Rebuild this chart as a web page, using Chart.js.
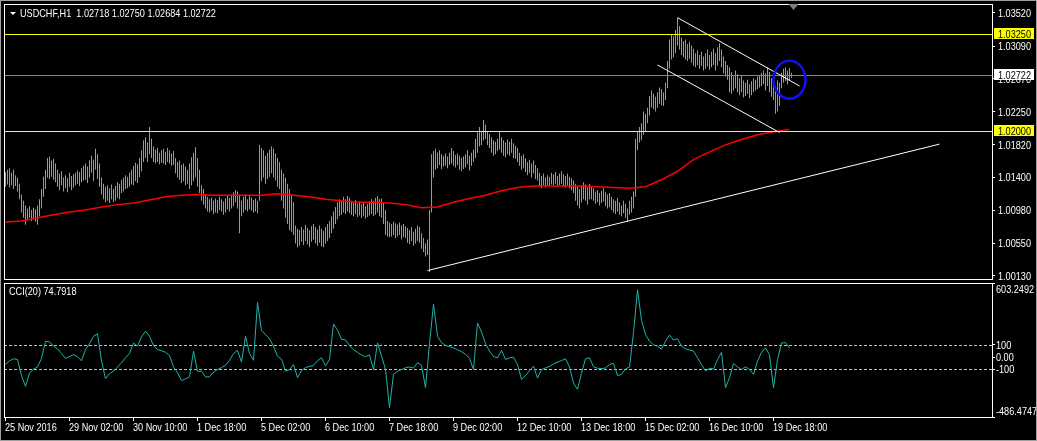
<!DOCTYPE html>
<html>
<head>
<meta charset="utf-8">
<script src="https://cdn.jsdelivr.net/npm/chart.js@4.4.0/dist/chart.umd.min.js"></script>
<style>
html, body { margin: 0; padding: 0; background: #000; }
#wrap { position: relative; width: 1037px; height: 441px; overflow: hidden; background: #000; }
canvas { position: absolute; left: 0; }
#edge { position: absolute; left: 0; top: 0; width: 1037px; height: 441px; box-sizing: border-box; border: 1px solid #a0a0a0; pointer-events: none; }
</style>
</head>
<body>
<div id="wrap">
  <canvas id="priceChart" width="1037" height="281" style="top:0"></canvas>
  <canvas id="cciChart" width="1037" height="160" style="top:281px"></canvas>
  <div id="edge"></div>
</div>
<script>
// USDCHF H1 bars, one entry per hour
const highs = [
  1.0147,1.0150,1.0152,1.0146,1.0150,1.0143,1.0140,1.0132,1.0118,1.0110,
  1.0104,1.0100,1.0103,1.0098,1.0101,1.0099,1.0104,1.0112,1.0125,1.0141,
  1.0150,1.0165,1.0167,1.0162,1.0164,1.0158,1.0150,1.0145,1.0148,1.0140,
  1.0143,1.0139,1.0146,1.0142,1.0144,1.0146,1.0149,1.0147,1.0152,1.0155,
  1.0158,1.0154,1.0162,1.0168,1.0163,1.0177,1.0170,1.0158,1.0140,1.0132,
  1.0128,1.0130,1.0126,1.0131,1.0125,1.0129,1.0134,1.0132,1.0137,1.0140,
  1.0143,1.0141,1.0146,1.0150,1.0155,1.0159,1.0157,1.0165,1.0175,1.0188,
  1.0192,1.0185,1.0205,1.0190,1.0180,1.0176,1.0178,1.0172,1.0175,1.0177,
  1.0173,1.0178,1.0175,1.0171,1.0174,1.0165,1.0160,1.0162,1.0156,1.0158,
  1.0154,1.0150,1.0158,1.0166,1.0172,1.0179,1.0165,1.0150,1.0130,1.0125,
  1.0118,1.0115,1.0112,1.0114,1.0110,1.0113,1.0111,1.0115,1.0112,1.0109,
  1.0113,1.0116,1.0114,1.0118,1.0121,1.0124,1.0122,1.0118,1.0110,1.0115,
  1.0118,1.0112,1.0116,1.0114,1.0111,1.0113,1.0110,1.0182,1.0178,1.0175,
  1.0168,1.0172,1.0176,1.0180,1.0177,1.0171,1.0165,1.0160,1.0150,1.0145,
  1.0140,1.0132,1.0125,1.0118,1.0108,1.0078,1.0074,1.0072,1.0076,1.0073,
  1.0079,1.0075,1.0072,1.0077,1.0080,1.0076,1.0073,1.0078,1.0074,1.0071,
  1.0076,1.0080,1.0084,1.0090,1.0096,1.0102,1.0108,1.0112,1.0110,1.0115,
  1.0112,1.0116,1.0114,1.0110,1.0108,1.0111,1.0106,1.0109,1.0105,1.0108,
  1.0103,1.0106,1.0109,1.0112,1.0110,1.0114,1.0116,1.0112,1.0113,1.0108,
  1.0098,1.0084,1.0082,1.0080,1.0083,1.0081,1.0079,1.0082,1.0078,1.0080,
  1.0077,1.0075,1.0072,1.0076,1.0070,1.0074,1.0078,1.0076,1.0068,1.0062,
  1.0055,1.0060,1.0098,1.0170,1.0174,1.0177,1.0172,1.0175,1.0170,1.0168,
  1.0171,1.0167,1.0172,1.0178,1.0174,1.0169,1.0171,1.0168,1.0165,1.0167,
  1.0170,1.0175,1.0168,1.0172,1.0176,1.0190,1.0198,1.0205,1.0200,1.0214,
  1.0208,1.0200,1.0196,1.0192,1.0188,1.0186,1.0190,1.0200,1.0192,1.0188,
  1.0185,1.0189,1.0186,1.0190,1.0184,1.0181,1.0178,1.0172,1.0168,1.0170,
  1.0165,1.0160,1.0163,1.0158,1.0162,1.0156,1.0152,1.0146,1.0142,1.0145,
  1.0140,1.0143,1.0141,1.0146,1.0144,1.0147,1.0142,1.0145,1.0148,1.0144,
  1.0142,1.0145,1.0141,1.0139,1.0136,1.0132,1.0128,1.0125,1.0130,1.0134,
  1.0131,1.0127,1.0132,1.0128,1.0126,1.0122,1.0124,1.0120,1.0123,1.0126,
  1.0121,1.0118,1.0120,1.0115,1.0112,1.0110,1.0114,1.0108,1.0104,1.0110,
  1.0106,1.0100,1.0110,1.0115,1.0122,1.0190,1.0200,1.0205,1.0210,1.0225,
  1.0222,1.0230,1.0245,1.0252,1.0248,1.0244,1.0250,1.0256,1.0254,1.0250,
  1.0262,1.0290,1.0318,1.0325,1.0322,1.0330,1.0346,1.0335,1.0320,1.0316,
  1.0318,1.0312,1.0315,1.0310,1.0306,1.0300,1.0304,1.0298,1.0302,1.0296,
  1.0300,1.0305,1.0298,1.0302,1.0306,1.0300,1.0308,1.0313,1.0305,1.0296,
  1.0290,1.0285,1.0282,1.0276,1.0270,1.0278,1.0273,1.0268,1.0272,1.0265,
  1.0262,1.0266,1.0260,1.0264,1.0268,1.0266,1.0270,1.0272,1.0275,1.0278,
  1.0274,1.0282,1.0276,1.0268,1.0262,1.0258,1.0265,1.0262,1.0275,1.0280,
  1.0282,1.0278,1.0281,1.02750
];
const lows = [
  1.0128,1.0131,1.0127,1.0130,1.0125,1.0129,1.0122,1.0112,1.0095,1.0088,
  1.0079,1.0086,1.0088,1.0084,1.0087,1.0083,1.0079,1.0090,1.0100,1.0115,
  1.0125,1.0140,1.0138,1.0141,1.0137,1.0134,1.0128,1.0124,1.0130,1.0122,
  1.0126,1.0121,1.0128,1.0124,1.0127,1.0130,1.0132,1.0129,1.0134,1.0136,
  1.0137,1.0133,1.0140,1.0146,1.0135,1.0150,1.0138,1.0128,1.0118,1.0112,
  1.0108,1.0110,1.0107,1.0112,1.0108,1.0110,1.0114,1.0112,1.0120,1.0122,
  1.0125,1.0126,1.0128,1.0131,1.0130,1.0135,1.0133,1.0140,1.0148,1.0160,
  1.0165,1.0160,1.0170,1.0165,1.0160,1.0158,1.0160,1.0157,1.0159,1.0158,
  1.0156,1.0160,1.0158,1.0155,1.0156,1.0145,1.0140,1.0137,1.0133,1.0135,
  1.0130,1.0132,1.0125,1.0130,1.0135,1.0140,1.0128,1.0120,1.0110,1.0105,
  1.0100,1.0096,1.0095,1.0097,1.0093,1.0095,1.0094,1.0098,1.0096,1.0092,
  1.0095,1.0099,1.0096,1.0100,1.0103,1.0108,1.0100,1.0068,1.0090,1.0095,
  1.0098,1.0096,1.0099,1.0097,1.0095,1.0096,1.0094,1.0110,1.0135,1.0140,
  1.0132,1.0138,1.0141,1.0145,1.0140,1.0136,1.0128,1.0125,1.0110,1.0100,
  1.0088,1.0080,1.0072,1.0070,1.0066,1.0055,1.0050,1.0052,1.0057,1.0053,
  1.0058,1.0054,1.0050,1.0057,1.0060,1.0055,1.0052,1.0056,1.0051,1.0050,
  1.0055,1.0058,1.0062,1.0068,1.0074,1.0080,1.0086,1.0090,1.0092,1.0095,
  1.0093,1.0096,1.0094,1.0092,1.0090,1.0093,1.0089,1.0091,1.0088,1.0090,
  1.0087,1.0089,1.0091,1.0093,1.0090,1.0092,1.0095,1.0090,1.0088,1.0080,
  1.0066,1.0064,1.0063,1.0064,1.0066,1.0062,1.0064,1.0066,1.0060,1.0063,
  1.0062,1.0056,1.0054,1.0058,1.0052,1.0055,1.0058,1.0056,1.0048,1.0044,
  1.0038,1.0040,1.0018,1.0095,1.0140,1.0150,1.0152,1.0156,1.0151,1.0154,
  1.0155,1.0152,1.0156,1.0158,1.0155,1.0153,1.0156,1.0150,1.0148,1.0151,
  1.0153,1.0157,1.0149,1.0155,1.0160,1.0165,1.0172,1.0180,1.0182,1.0188,
  1.0190,1.0182,1.0178,1.0172,1.0168,1.0170,1.0174,1.0176,1.0172,1.0168,
  1.0166,1.0170,1.0168,1.0172,1.0165,1.0164,1.0160,1.0155,1.0150,1.0152,
  1.0147,1.0143,1.0146,1.0140,1.0145,1.0138,1.0136,1.0128,1.0126,1.0130,
  1.0127,1.0129,1.0128,1.0131,1.0130,1.0132,1.0128,1.0130,1.0132,1.0128,
  1.0127,1.0129,1.0126,1.0124,1.0120,1.0110,1.0104,1.0100,1.0108,1.0112,
  1.0110,1.0105,1.0112,1.0112,1.0110,1.0106,1.0108,1.0104,1.0107,1.0109,
  1.0103,1.0100,1.0102,1.0098,1.0095,1.0093,1.0096,1.0092,1.0090,1.0094,
  1.0088,1.0083,1.0092,1.0095,1.0100,1.0115,1.0175,1.0185,1.0188,1.0195,
  1.0200,1.0210,1.0220,1.0230,1.0228,1.0225,1.0230,1.0235,1.0233,1.0232,
  1.0240,1.0255,1.0280,1.0292,1.0295,1.0300,1.0310,1.0305,1.0298,1.0295,
  1.0292,1.0290,1.0293,1.0288,1.0284,1.0282,1.0285,1.0280,1.0284,1.0278,
  1.0280,1.0283,1.0279,1.0282,1.0285,1.0278,1.0284,1.0290,1.0282,1.0274,
  1.0270,1.0266,1.0250,1.0248,1.0252,1.0255,1.0250,1.0246,1.0250,1.0243,
  1.0245,1.0248,1.0242,1.0246,1.0250,1.0252,1.0254,1.0256,1.0258,1.0260,
  1.0252,1.0258,1.0250,1.0244,1.0240,1.0222,1.0225,1.0232,1.0255,1.0262,
  1.0264,1.0260,1.0265,1.02684
];

// red moving average, read every 8th bar
const maEvery = 8;
const maValues = [
  1.00826,1.0084,1.0088,1.0092,1.00955,1.0098,1.0102,1.0105,1.0107,1.0111,
  1.0115,1.0117,1.0118,1.0117,1.0117,1.0117,1.0117,1.0119,1.0117,1.0115,
  1.0112,1.0110,1.0108,1.0108,1.0107,1.0105,1.0101,1.0102,1.0108,1.0113,
  1.0117,1.0123,1.0127,1.0129,1.0129,1.0129,1.0129,1.0128,1.0127,1.0126,
  1.0128,1.0137,1.0148,1.0163,1.0173,1.0182,1.0189,1.0195,1.0199,1.0202
];

// CCI(20), read every 2nd bar
const cciEvery = 2;
const cciValues = [
  -59,-30,-13,-19,-150,-238,-130,-97,-80,-10,
  130,125,89,68,30,-11,6,20,5,-30,
  62,110,170,190,-30,-175,-135,-113,-80,-45,
  -5,30,115,90,165,211,170,95,62,52,
  40,15,-78,-127,-190,-175,-162,49,-115,-115,
  -160,-160,-120,-100,-85,-65,-25,30,55,-40,
  170,30,-25,445,215,185,150,90,8,-15,
  -113,-102,-59,-167,-110,-85,-75,-67,-30,-5,
  -70,-20,270,220,145,140,95,60,40,18,
  3,18,-100,116,10,-100,-410,-140,-115,-100,
  -86,-80,-88,-45,-65,-248,110,431,170,120,
  95,85,76,60,45,25,-10,-100,278,205,
  110,50,5,-5,55,-19,-5,0,-60,-180,
  -150,-110,-73,-170,-100,-88,-75,-55,-40,-28,
  -12,-80,-210,-262,-130,-13,-5,-78,-90,-93,
  -88,-60,-50,-150,-140,-95,-80,200,548,300,
  185,130,100,89,65,130,180,140,150,90,
  68,58,49,-5,-60,-113,-90,-95,-20,40,
  -248,-167,-50,-80,-100,-78,-100,-140,-32,40,
  76,20,-248,-20,116,118,75
];

const dateIdx = [0, 32, 64, 96, 128, 160, 192, 224, 256, 288, 320, 352, 384];
const dateLabels = ["25 Nov 2016", "29 Nov 02:00", "30 Nov 10:00", "1 Dec 18:00", "5 Dec 02:00",
  "6 Dec 10:00", "7 Dec 18:00", "9 Dec 02:00", "12 Dec 10:00", "13 Dec 18:00",
  "15 Dec 02:00", "16 Dec 10:00", "19 Dec 18:00"];

const priceTicks = [1.0013, 1.0055, 1.0098, 1.0140, 1.0182, 1.0225, 1.0267, 1.0309, 1.0352];
const yellowLevels = [1.0325, 1.0200];
const bidLevel = 1.02722;

// drawn objects: [bar index, price] end points
const trendLine = [[211, 1.0020], [467, 1.0183]];
const channelTop = [[336, 1.0346], [397, 1.0258]];
const channelLow = [[326, 1.0285], [387, 1.0198]];
const circleAt = [392, 1.0266];

const cciLevels = [100, -100];
const cciAxisValues = [603.2492, 100, 0, -100, -486.4747];
const cciAxisText = ["603.2492", "100", "0.00", "-100", "-486.4747"];

const title = "USDCHF,H1  1.02718 1.02750 1.02684 1.02722";
const cciTitle = "CCI(20) 74.7918";

const FONT = "11px 'Liberation Sans', Arial, sans-serif";
const NARROW = 0.83;
const xMin = -0.75, xMax = 493.25;

const priceData = highs.map((h, i) => ({ x: i, y: [lows[i], h] }));
const maData = maValues.map((v, k) => ({ x: k * maEvery, y: v }));
const cciData = cciValues.map((v, k) => ({ x: k * cciEvery, y: v }));

function blackBg(chart) {
    const ctx = chart.ctx;
    ctx.save();
    ctx.fillStyle = "#000";
    ctx.fillRect(0, 0, chart.width, chart.height);
    ctx.restore();
}

// MT4 uses a narrow UI font, so squeeze the text a little
function narrowText(ctx, text, x, y, baseline) {
    ctx.save();
    ctx.font = FONT;
    ctx.textAlign = "left";
    ctx.textBaseline = baseline || "alphabetic";
    ctx.translate(x, y);
    ctx.scale(NARROW, 1);
    ctx.fillText(text, 0, 0);
    ctx.restore();
}

function segment(ctx, x, y, a, b) {
    ctx.beginPath();
    ctx.moveTo(x.getPixelForValue(a[0]), y.getPixelForValue(a[1]));
    ctx.lineTo(x.getPixelForValue(b[0]), y.getPixelForValue(b[1]));
    ctx.stroke();
}

const priceOverlay = {
    id: "priceOverlay",
    beforeDraw: blackBg,
    afterDatasetsDraw(chart) {
        const { ctx, chartArea: a, scales: { x, y } } = chart;
        ctx.save();
        ctx.beginPath();
        ctx.rect(a.left, a.top, a.right - a.left, a.bottom - a.top);
        ctx.clip();
        ctx.lineWidth = 1;
        yellowLevels.forEach(v => {
            const py = Math.round(y.getPixelForValue(v)) + 0.5;
            ctx.strokeStyle = "#ffff00";
            ctx.beginPath(); ctx.moveTo(a.left, py); ctx.lineTo(a.right, py); ctx.stroke();
        });
        const by = Math.round(y.getPixelForValue(bidLevel)) + 0.5;
        ctx.strokeStyle = "#778899";
        ctx.beginPath(); ctx.moveTo(a.left, by); ctx.lineTo(a.right, by); ctx.stroke();
        ctx.strokeStyle = "#ffffff";
        segment(ctx, x, y, trendLine[0], trendLine[1]);
        segment(ctx, x, y, channelTop[0], channelTop[1]);
        segment(ctx, x, y, channelLow[0], channelLow[1]);
        ctx.strokeStyle = "#1010f0";
        ctx.lineWidth = 2.5;
        ctx.beginPath();
        ctx.ellipse(x.getPixelForValue(circleAt[0]), y.getPixelForValue(circleAt[1]), 16, 19, 0, 0, Math.PI * 2);
        ctx.stroke();
        ctx.restore();
    },
    afterDraw(chart) {
        const { ctx, chartArea: a, scales: { x, y } } = chart;
        ctx.save();
        ctx.strokeStyle = "#ffffff";
        ctx.lineWidth = 1;
        ctx.strokeRect(a.left + 0.5, a.top + 0.5, a.right - a.left, a.bottom - a.top);
        // chart shift marker
        const mx = x.getPixelForValue(394);
        ctx.fillStyle = "#808080";
        ctx.beginPath();
        ctx.moveTo(mx - 5, a.top); ctx.lineTo(mx + 5, a.top); ctx.lineTo(mx, a.top + 6); ctx.closePath();
        ctx.fill();
        // price axis labels
        ctx.fillStyle = "#ffffff";
        priceTicks.forEach(v => narrowText(ctx, v.toFixed(5), a.right + 6, y.getPixelForValue(v) + 4));
        // price tags
        const tags = [[yellowLevels[0], "#ffff00"], [bidLevel, "#ffffff"], [yellowLevels[1], "#ffff00"]];
        tags.forEach(([v, col]) => {
            const py = Math.round(y.getPixelForValue(v));
            ctx.fillStyle = col;
            ctx.fillRect(a.right + 2, py - 6, 40, 11);
            ctx.fillStyle = "#000";
            narrowText(ctx, v.toFixed(5), a.right + 6, py + 4);
        });
        // header
        ctx.fillStyle = "#ffffff";
        ctx.beginPath();
        ctx.moveTo(10, 12); ctx.lineTo(16, 12); ctx.lineTo(13, 15); ctx.closePath();
        ctx.fill();
        narrowText(ctx, title, 20, 17);
        ctx.restore();
    }
};

const cciOverlay = {
    id: "cciOverlay",
    beforeDraw: blackBg,
    beforeDatasetsDraw(chart) {
        const { ctx, chartArea: a, scales: { y } } = chart;
        ctx.save();
        ctx.strokeStyle = "#c0c0c0";
        ctx.lineWidth = 1;
        ctx.setLineDash([3, 2]);
        cciLevels.forEach(v => {
            const py = Math.round(y.getPixelForValue(v)) + 0.5;
            ctx.beginPath(); ctx.moveTo(a.left, py); ctx.lineTo(a.right, py); ctx.stroke();
        });
        ctx.restore();
    },
    afterDraw(chart) {
        const { ctx, chartArea: a, scales: { x, y } } = chart;
        ctx.save();
        ctx.strokeStyle = "#ffffff";
        ctx.lineWidth = 1;
        ctx.strokeRect(a.left + 0.5, a.top + 0.5, a.right - a.left, a.bottom - a.top);
        ctx.fillStyle = "#ffffff";
        narrowText(ctx, cciTitle, 9, a.top + 12);
        cciAxisValues.forEach((v, i) => {
            const py = y.getPixelForValue(v);
            let by = py + 4;
            if (i === 0) by = py + 10;
            else if (i === cciAxisValues.length - 1) by = py - 2;
            narrowText(ctx, cciAxisText[i], a.right + 4, by);
        });
        // time axis labels
        dateIdx.forEach((v, i) => narrowText(ctx, dateLabels[i], Math.floor(x.getPixelForValue(v)), a.bottom + 14));
        ctx.restore();
    }
};

new Chart(document.getElementById("priceChart"), {
    type: "bar",
    data: {
        datasets: [
            { type: "line", data: maData, borderColor: "#ff0000", borderWidth: 1.5, pointRadius: 0, tension: 0 },
            { type: "bar", data: priceData, backgroundColor: "#2ee62e", borderWidth: 0, barThickness: 1, inflateAmount: 0 }
        ]
    },
    options: {
        responsive: false,
        animation: false,
        events: [],
        layout: { padding: { left: 4, top: 4, right: 0, bottom: 2 } },
        plugins: { legend: { display: false }, tooltip: { enabled: false } },
        scales: {
            x: { type: "linear", min: xMin, max: xMax, display: false, offset: false },
            y: {
                position: "right",
                min: 1.000913,
                max: 1.036360,
                afterFit(s) { s.width = 45; },
                afterBuildTicks(s) { s.ticks = priceTicks.map(v => ({ value: v })); },
                ticks: { display: false },
                grid: { drawOnChartArea: false, color: "#ffffff", tickLength: 3 },
                border: { display: false }
            }
        }
    },
    plugins: [priceOverlay]
});

new Chart(document.getElementById("cciChart"), {
    type: "line",
    data: {
        datasets: [
            { data: cciData, borderColor: "#20b2aa", borderWidth: 1, pointRadius: 0, tension: 0 }
        ]
    },
    options: {
        responsive: false,
        animation: false,
        events: [],
        layout: { padding: { left: 4, top: 2, right: 0, bottom: 0 } },
        plugins: { legend: { display: false }, tooltip: { enabled: false } },
        scales: {
            x: {
                type: "linear",
                min: xMin,
                max: xMax,
                offset: false,
                afterFit(s) { s.height = 24; },
                afterBuildTicks(s) { s.ticks = dateIdx.map(v => ({ value: v })); },
                ticks: { display: false },
                grid: { drawOnChartArea: false, color: "#ffffff", tickLength: 4 },
                border: { display: false }
            },
            y: {
                position: "right",
                min: -486.4747,
                max: 603.2492,
                afterFit(s) { s.width = 45; },
                afterBuildTicks(s) { s.ticks = cciAxisValues.map(v => ({ value: v })); },
                ticks: { display: false },
                grid: { drawOnChartArea: false, color: "#ffffff", tickLength: 3 },
                border: { display: false }
            }
        }
    },
    plugins: [cciOverlay]
});
</script>
</body>
</html>
